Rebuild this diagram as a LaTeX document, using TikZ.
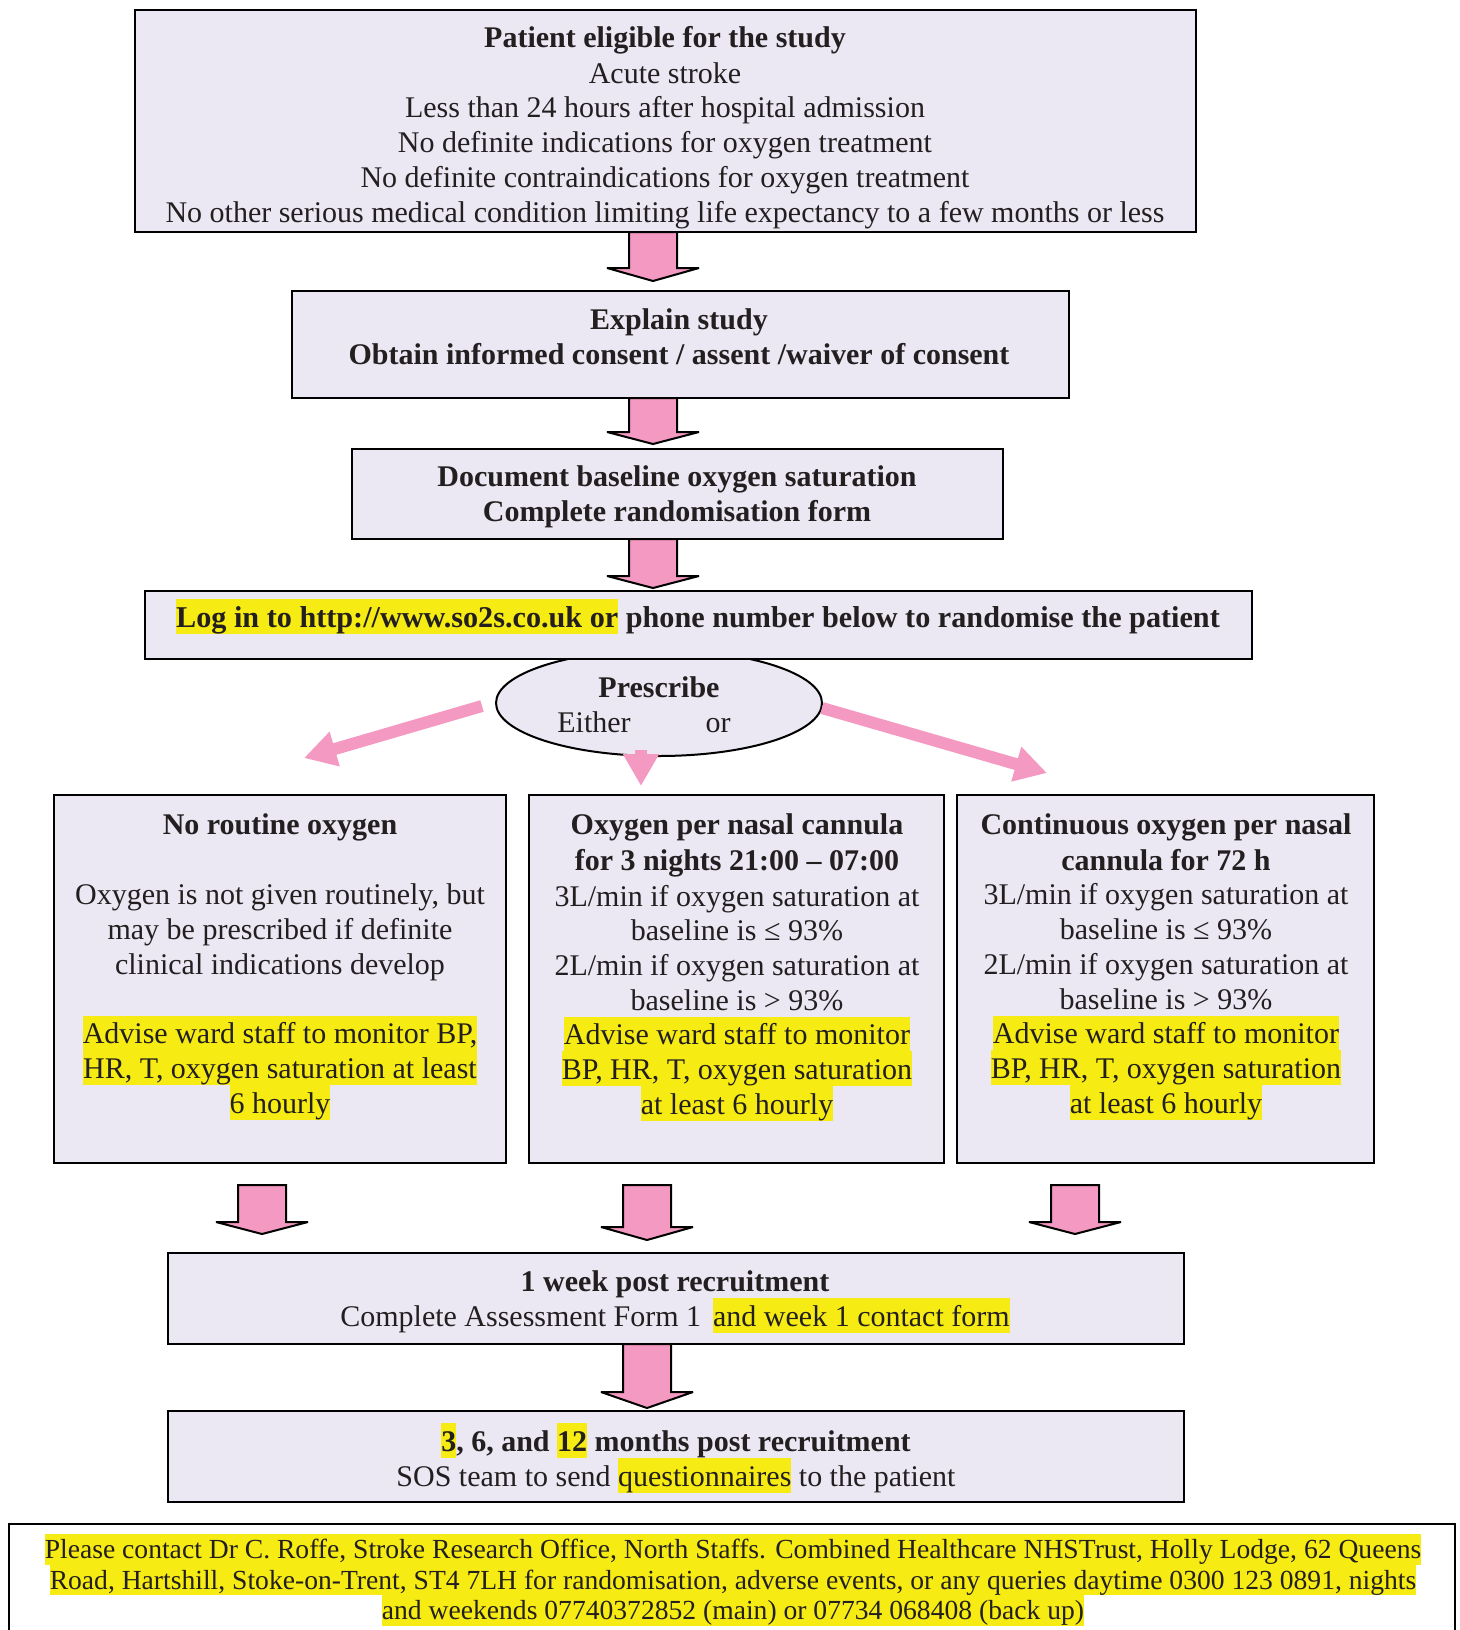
\documentclass[tikz,border=0pt]{standalone}
\usepackage{fontspec}
\setmainfont{Liberation Serif}
\usetikzlibrary{arrows.meta,calc,shapes.geometric}
\definecolor{boxfill}{HTML}{EBE7F3}
\definecolor{pinkar}{HTML}{F49AC2}
\definecolor{hly}{HTML}{F6EC13}
\definecolor{ink}{HTML}{231F20}
\newcommand\st{\rule[-6.5pt]{0pt}{34.7pt}}
\newcommand\sst{\rule[-6pt]{0pt}{30.5pt}}
\newcommand\hl[1]{{\setlength{\fboxsep}{0pt}\colorbox{hly}{\st#1}}}
\newcommand\shl[1]{{\setlength{\fboxsep}{0pt}\colorbox{hly}{\sst#1}}}
\newcommand\blockarrow[3]{%
  \draw[blockar] let \p1=(#1), \p2=(#2) in
    (\x1-24pt,\y1) -- (\x1-24pt,\y2+#3) -- (\x1-46pt,\y2+#3) -- (\x2,\y2)
    -- (\x1+46pt,\y2+#3) -- (\x1+24pt,\y2+#3) -- (\x1+24pt,\y1) -- cycle;}
\tikzset{
  box/.style={draw=black, line width=2.4pt, fill=boxfill, inner sep=0pt},
  txt/.style={inner sep=0pt, align=center, anchor=north, text=ink,
    font=\fontsize{30}{34.7}\selectfont},
  stxt/.style={inner sep=0pt, align=center, anchor=north, text=ink,
    font=\fontsize{27.6}{30.5}\selectfont},
  blockar/.style={draw=black, line width=2pt, fill=pinkar, line join=miter, miter limit=4},
  thinar/.style={draw=pinkar, line width=12pt, -{Triangle[length=32pt,width=34pt]}},
}
\begin{document}
\begin{tikzpicture}[x=1pt,y=-1pt]
\useasboundingbox (0,0) rectangle (1459,1630);
% boxes
\node[box, minimum width=1061pt, minimum height=222pt] (top) at (665.5,121) {};
\node[box, minimum width=777pt, minimum height=107pt] (explain) at (680.5,344.5) {};
\node[box, minimum width=651pt, minimum height=90pt] (doc) at (677.5,494) {};
\node[box, ellipse, line width=2pt, minimum width=326pt, minimum height=106pt] (presc) at (659,703) {};
\node[box, minimum width=1107pt, minimum height=68pt] (login) at (698.5,625) {};
\node[box, minimum width=452pt, minimum height=368pt] (boxA) at (280,979) {};
\node[box, minimum width=415pt, minimum height=368pt] (boxB) at (736.5,979) {};
\node[box, minimum width=417pt, minimum height=368pt] (boxC) at (1165.5,979) {};
\node[box, minimum width=1016pt, minimum height=91pt] (week) at (676,1298.5) {};
\node[box, minimum width=1016pt, minimum height=91pt] (months) at (676,1456.5) {};
\node[draw=black, line width=1.6pt, fill=white, minimum width=1446pt, minimum height=130pt] (contact) at (732,1589) {};
% texts
\node[txt] (topT) at (665,19) {\st\textbf{Patient eligible for the study}\\
  \st Acute stroke\\
  \st Less than 24 hours after hospital admission\\
  \st No definite indications for oxygen treatment\\
  \st No definite contraindications for oxygen treatment\\
  \st No other serious medical condition limiting life expectancy to a few months or less};
\node[txt, font=\fontsize{30}{35}\selectfont\bfseries] (explainT) at (679,301) {\st Explain study\\
  \st Obtain informed consent / assent /waiver of consent};
\node[txt, font=\fontsize{30}{35}\selectfont\bfseries] (docT) at (677,458) {\st Document baseline oxygen saturation\\
  \st Complete randomisation form};
\node[txt, font=\fontsize{30.2}{34.7}\selectfont\bfseries] (loginT) at (698,599) {\hl{Log in to http://www.so2s.co.uk or} phone number below to randomise the patient};
\node[txt] (prescT) at (659,669) {\st\textbf{Prescribe}};
\node[txt] (eitherT) at (594,704) {\st Either};
\node[txt] (orT) at (718,704) {\st or};
\node[txt] (textA) at (280,806) {\st\textbf{No routine oxygen}\\
  \st\\
  \st Oxygen is not given routinely, but\\
  \st may be prescribed if definite\\
  \st clinical indications develop\\
  \st\\
  \hl{Advise ward staff to monitor BP,}\\
  \hl{HR, T, oxygen saturation at least}\\
  \hl{6 hourly}};
\node[txt] (textB) at (737,806) {\st\textbf{Oxygen per nasal cannula}\\
  \st\textbf{for 3 nights 21:00 -- 07:00}\\
  \st 3L/min if oxygen saturation at\\
  \st baseline is ≤ 93\%\\
  \st 2L/min if oxygen saturation at\\
  \st baseline is > 93\%\\
  \hl{Advise ward staff to monitor}\\
  \hl{BP, HR, T, oxygen saturation}\\
  \hl{at least 6 hourly}};
\node[txt] (textC) at (1166,806) {\st\textbf{Continuous oxygen per nasal}\\
  \st\textbf{cannula for 72 h}\\
  \st 3L/min if oxygen saturation at\\
  \st baseline is ≤ 93\%\\
  \st 2L/min if oxygen saturation at\\
  \st baseline is > 93\%\\
  \hl{Advise ward staff to monitor}\\
  \hl{BP, HR, T, oxygen saturation}\\
  \hl{at least 6 hourly}};
\node[txt] (weekT) at (675,1263) {\st\textbf{1 week post recruitment}\\
  \st Complete Assessment Form 1\hspace{12pt}\hl{and week 1 contact form}};
\node[txt] (monthsT) at (676,1423) {\st\textbf{\hl{3}, 6, and \hl{12} months post recruitment}\\
  \st SOS team to send \hl{questionnaires} to the patient};
\node[stxt] (contactT) at (733,1534) {\shl{Please contact Dr C. Roffe, Stroke Research Office, North Staffs. Combined Healthcare NHSTrust, Holly Lodge, 62 Queens}\\
  \shl{Road, Hartshill, Stoke-on-Trent, ST4 7LH for randomisation, adverse events, or any queries daytime 0300 123 0891, nights}\\
  \shl{and weekends 07740372852 (main) or 07734 068408 (back up)}};
% block arrows
\coordinate (a1s) at (653,232);  \coordinate (a1e) at (653,281);
\coordinate (a2s) at (653,398);  \coordinate (a2e) at (653,444);
\coordinate (a3s) at (653,539);  \coordinate (a3e) at (653,588);
\coordinate (aAs) at (262,1185); \coordinate (aAe) at (262,1234);
\coordinate (aBs) at (647,1185); \coordinate (aBe) at (647,1240);
\coordinate (aCs) at (1075,1185); \coordinate (aCe) at (1075,1234);
\coordinate (a4s) at (647,1344); \coordinate (a4e) at (647,1408);
\blockarrow{a1s}{a1e}{13pt}
\blockarrow{a2s}{a2e}{12pt}
\blockarrow{a3s}{a3e}{12pt}
\blockarrow{aAs}{aAe}{12pt}
\blockarrow{aBs}{aBe}{13pt}
\blockarrow{aCs}{aCe}{12pt}
\blockarrow{a4s}{a4e}{16pt}
% thin pink arrows from ellipse
\coordinate (pLs) at (482,706); \coordinate (pLe) at (304,758);
\coordinate (pMs) at (641,750); \coordinate (pMe) at (641,786);
\coordinate (pRs) at (822,708); \coordinate (pRe) at (1047,773);
\draw[thinar] (pLs) -- (pLe);
\draw[thinar] (pMs) -- (pMe);
\draw[thinar] (pRs) -- (pRe);
\end{tikzpicture}
\end{document}
